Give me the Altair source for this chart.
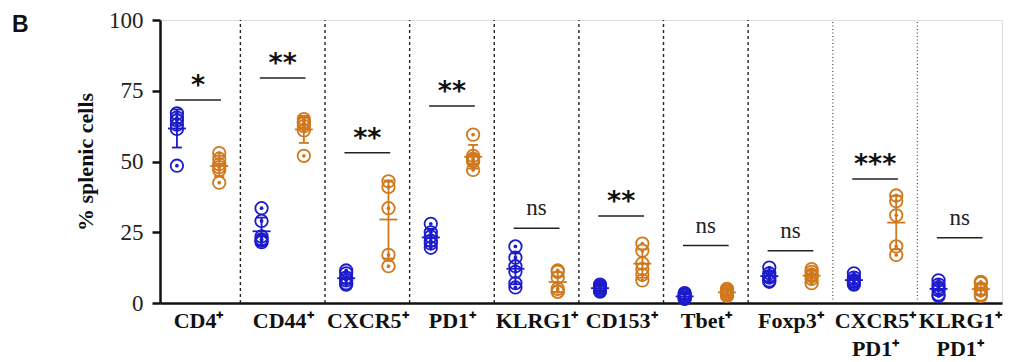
import json
import altair as alt
import pandas as pd

# ---- data ----
categories = ["CD4⁺", "CD44⁺", "CXCR5⁺", "PD1⁺", "KLRG1⁺", "CD153⁺",
              "Tbet⁺", "Foxp3⁺", "CXCR5⁺|PD1⁺", "KLRG1⁺|PD1⁺"]

group_a = [  # blue
    [67, 65.5, 64.5, 63, 61.5, 48.5],
    [33.5, 29, 23.5, 22.5, 22, 21.5],
    [11.5, 10.5, 9, 8, 7, 6.5],
    [28, 25, 23.5, 22, 21, 19.5],
    [20, 16, 13, 11, 7, 5.5],
    [6.5, 6, 5.5, 5, 4.5, 4],
    [3.5, 3, 2.5, 2, 1.5, 1.5],
    [12.5, 10.5, 9.5, 9, 8, 7.5],
    [10.5, 9, 8, 7.5, 7, 6.5],
    [8, 6.5, 5.5, 4.5, 3, 2.5],
]
group_b = [  # orange
    [53, 51, 49, 48, 47, 42.5],
    [65, 64, 63.5, 62.5, 61, 52],
    [43, 41, 33.5, 17, 13],
    [59.5, 52, 51, 50.5, 50, 47],
    [11.5, 11, 9, 5, 4, 4],
    [21, 18.5, 14, 12, 10, 8],
    [5, 4.5, 4, 3.5, 3, 2.5],
    [12, 11, 10, 9.5, 8.5, 7],
    [38, 36, 31, 20, 17],
    [7.5, 7, 5, 4.5, 3, 2.5],
]
sig_labels = ["*", "**", "**", "**", "ns", "**", "ns", "ns", "***", "ns"]
sig_y = [71.7, 79.5, 53.1, 69.6, 26.4, 30.7, 20.3, 18.5, 43.8, 23.1]
divider_style = ["dash"] * 7 + ["dot"] * 2

BLUE = "#1c1ccc"
ORANGE = "#d0781c"

rows = []
for i in range(len(categories)):
    for v in group_a[i]:
        rows.append({"idx": i, "grp": "A", "value": v})
    for v in group_b[i]:
        rows.append({"idx": i, "grp": "B", "value": v})
df = pd.DataFrame(rows)

div_df = pd.DataFrame({"idx": list(range(len(divider_style))), "style": divider_style})
sig_df = pd.DataFrame({"idx": list(range(len(categories))), "label": sig_labels, "y": sig_y})
panel_df = pd.DataFrame({"t": ["B"]})

label_expr = "split(" + json.dumps(categories, ensure_ascii=False) + "[datum.value], '|')"

xscale = alt.Scale(domain=[-0.45, 9.5], nice=False, zero=False)
yscale = alt.Scale(domain=[0, 100], nice=False)

x_axis = alt.Axis(values=list(range(10)), labelExpr=label_expr, ticks=False, grid=False,
                  title=None, domainColor="#111", domainWidth=2.5,
                  labelFont="Liberation Serif", labelFontSize=22, labelFontWeight="bold",
                  labelColor="#111", labelPadding=7, labelLineHeight=28, labelBaseline="top",
                  labelFlush=False, labelOverlap=False)
y_axis = alt.Axis(values=[0, 25, 50, 75, 100], grid=False, title="% splenic cells",
                  domainColor="#111", domainWidth=2.5, tickColor="#111", tickWidth=2.5,
                  tickSize=8, labelFont="Liberation Serif", labelFontSize=23,
                  labelColor="#222", labelPadding=9, titleFont="Liberation Serif",
                  titleFontSize=22, titleFontWeight="bold", titleColor="#111",
                  titlePadding=11)

color_scale = alt.Scale(domain=["A", "B"], range=[BLUE, ORANGE])

xpos_calc = "datum.idx + (datum.grp == 'A' ? -0.25 : 0.25)"

base = alt.Chart(df).transform_calculate(xpos=xpos_calc)

# axes carrier (invisible)
axes = alt.Chart(df).mark_point(opacity=0).encode(
    x=alt.X("idx:Q", scale=xscale, axis=x_axis),
    y=alt.Y("value:Q", scale=yscale, axis=y_axis),
)

dividers_dash = alt.Chart(div_df).transform_filter("datum.style == 'dash'").transform_calculate(
    xd="datum.idx + 0.5").mark_rule(color="#222", strokeWidth=1.4, strokeDash=[3, 3]).encode(
    x=alt.X("xd:Q", scale=xscale), y=alt.datum(0), y2=alt.datum(100))
dividers_dot = alt.Chart(div_df).transform_filter("datum.style == 'dot'").transform_calculate(
    xd="datum.idx + 0.5").mark_rule(color="#555", strokeWidth=1.3, strokeDash=[1, 2.5]).encode(
    x=alt.X("xd:Q", scale=xscale), y=alt.datum(0), y2=alt.datum(100))

sig_lines = alt.Chart(sig_df).transform_calculate(
    x1="datum.idx - 0.27", x2="datum.idx + 0.27").mark_rule(color="#222", strokeWidth=1.5).encode(
    x=alt.X("x1:Q", scale=xscale), x2="x2:Q", y=alt.Y("y:Q", scale=yscale))
sig_stars = alt.Chart(sig_df).transform_filter("datum.label != 'ns'").mark_text(
    font="DejaVu Sans", fontWeight="bold", fontSize=27, color="#111",
    baseline="alphabetic", dy=-6).encode(
    x=alt.X("idx:Q", scale=xscale), y=alt.Y("y:Q", scale=yscale), text="label:N")
sig_ns = alt.Chart(sig_df).transform_filter("datum.label == 'ns'").mark_text(
    font="Liberation Serif", fontSize=23, color="#222",
    baseline="alphabetic", dy=-13).encode(
    x=alt.X("idx:Q", scale=xscale), y=alt.Y("y:Q", scale=yscale), text="label:N")

points = base.mark_point(shape="circle", filled=False, size=155, strokeWidth=1.8, opacity=1).encode(
    x=alt.X("xpos:Q", scale=xscale),
    y=alt.Y("value:Q", scale=yscale),
    color=alt.Color("grp:N", scale=color_scale, legend=None),
)
dots = base.mark_circle(size=14, opacity=1).encode(
    x=alt.X("xpos:Q", scale=xscale),
    y=alt.Y("value:Q", scale=yscale),
    color=alt.Color("grp:N", scale=color_scale, legend=None),
)

stats = alt.Chart(df).transform_aggregate(
    mean="mean(value)", sd="stdev(value)", groupby=["idx", "grp"]
).transform_calculate(xpos=xpos_calc, lo="datum.mean - datum.sd", hi="datum.mean + datum.sd")

cenc = dict(color=alt.Color("grp:N", scale=color_scale, legend=None))
mean_line = stats.mark_rule(strokeWidth=1.8, xOffset=-9, x2Offset=9).encode(
    x=alt.X("xpos:Q", scale=xscale), x2="xpos:Q", y=alt.Y("mean:Q", scale=yscale), **cenc)
err_line = stats.mark_rule(strokeWidth=1.8).encode(
    x=alt.X("xpos:Q", scale=xscale), y=alt.Y("lo:Q", scale=yscale), y2="hi:Q", **cenc)
cap_lo = stats.mark_rule(strokeWidth=1.8, xOffset=-5, x2Offset=5).encode(
    x=alt.X("xpos:Q", scale=xscale), x2="xpos:Q", y=alt.Y("lo:Q", scale=yscale), **cenc)
cap_hi = stats.mark_rule(strokeWidth=1.8, xOffset=-5, x2Offset=5).encode(
    x=alt.X("xpos:Q", scale=xscale), x2="xpos:Q", y=alt.Y("hi:Q", scale=yscale), **cenc)

panel = alt.Chart(panel_df).mark_text(font="Liberation Sans", fontWeight="bold", fontSize=23,
                                      color="#111", align="left", baseline="alphabetic").encode(
    x=alt.value(-148), y=alt.value(12), text="t:N")

chart = alt.layer(
    axes, dividers_dash, dividers_dot, sig_lines, sig_stars, sig_ns,
    points, dots, mean_line, err_line, cap_lo, cap_hi, panel
).properties(
    width=842, height=283,
    autosize=alt.AutoSizeParams(type="none"),
    padding={"left": 152, "top": 12, "right": 10, "bottom": 58},
).configure_view(stroke=None).configure(background="white")

chart.save("out.html", embed_options={"renderer": "svg", "actions": False})
